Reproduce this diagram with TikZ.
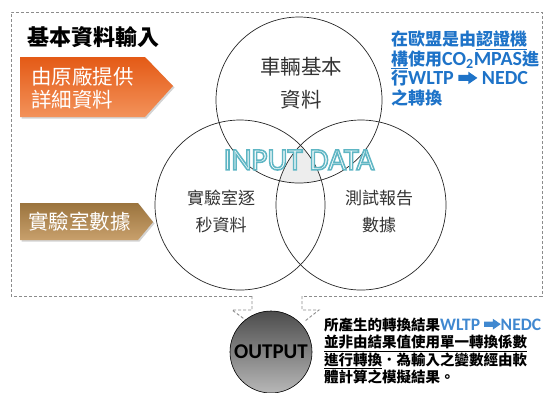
\documentclass[tikz,border=0pt]{standalone}
\usepackage{fontspec}
\setmainfont{Carlito}
\newfontfamily\cjk{Noto Sans CJK TC}
\newfontfamily\outlinefont{Carlito}[FakeBold=5]
\usetikzlibrary{shadows}

\definecolor{oemtop}{RGB}{228,90,22}
\definecolor{oembot}{RGB}{243,146,90}
\definecolor{labtop}{RGB}{155,116,62}
\definecolor{labbot}{RGB}{200,160,108}
\definecolor{noteblue}{RGB}{30,115,200}

\newcommand{\fatarrow}{\tikz[baseline=0pt,x=1em,y=1em]
  \fill (0,0.2) -- (0.5,0.2) -- (0.5,0.04) -- (0.95,0.35) -- (0.5,0.66) -- (0.5,0.5) -- (0,0.5) -- cycle;}
\newcommand{\noteLat}[1]{{\rmfamily\fontsize{20}{20}\selectfont #1}}
\newcommand{\resLat}[1]{{\rmfamily\fontsize{17.5}{17.5}\selectfont #1}}
% white letters, teal stroke
\newcommand{\outlined}[1]{{\outlinefont\color{white}\special{pdf:code 0.373 0.714 0.769 RG}#1}}

\begin{document}
\begin{tikzpicture}[x=1pt,y=-1pt,
    frame/.style={draw=black!45,dash pattern=on 3pt off 2pt,line width=0.9pt},
    venn/.style={circle,draw=black!85,line width=0.7pt,inner sep=0pt},
    tag/.style={drop shadow={opacity=0.35,shadow xshift=1.5pt,shadow yshift=-1.5pt}},
    tagtext/.style={text=white,align=left,inner sep=0pt,anchor=west},
    venntext/.style={text=black!80,align=center,inner sep=0pt}]

  \useasboundingbox (0,0) rectangle (545,392);

  % dashed frame round the inputs
  \draw[frame] (252,296) -- (11,296) -- (11,12) -- (542,12) -- (542,296) -- (302,296);
  \draw[frame] (252,296) -- (252,310) -- (232,310) -- (247,321);
  \draw[frame] (302,296) -- (302,310) -- (319,310) -- (305,321);

  \node[anchor=west,inner sep=0pt,font=\cjk\bfseries\fontsize{22}{26}\selectfont] (title) at (27,37) {基本資料輸入};

  % tags on the left
  \path[tag,top color=oemtop,bottom color=oembot] (20,57) -- (145,57) -- (173,86) -- (145,117) -- (20,117) -- cycle;
  \path[tag,top color=labtop,bottom color=labbot] (20,203) -- (138,203) -- (153,222) -- (138,240) -- (20,240) -- cycle;
  \node[tagtext,font=\cjk\fontsize{20.5}{23}\selectfont] (oem) at (31,88.5) {由原廠提供\\詳細資料};
  \node[tagtext,font=\cjk\fontsize{20.5}{23}\selectfont] (lab) at (28,222) {實驗室數據};

  % venn circles
  \begin{scope}
    \clip (299,100) circle[radius=83pt];
    \clip (240,205) circle[radius=85pt];
    \fill[black!7] (361,205) circle[radius=85pt];
  \end{scope}
  \node[venn,minimum size=166pt] (car) at (299,100) {};
  \node[venn,minimum size=170pt] (sec) at (240,205) {};
  \node[venn,minimum size=170pt] (rep) at (361,205) {};

  \node[venntext,font=\cjk\fontsize{20.5}{33}\selectfont] (cartext) at (301,83.5) {車輛基本\\資料};
  \node[venntext,font=\cjk\fontsize{17}{27}\selectfont] (sectext) at (221,211.5) {實驗室逐\\秒資料};
  \node[venntext,font=\cjk\fontsize{17}{27}\selectfont] (reptext) at (379,211.5) {測試報告\\數據};

  % outlined title in the middle
  \node[font=\fontsize{31}{32}\selectfont,inner sep=0pt] (input) at (299,160) {\outlined{INPUT DATA}};

  % note on the right
  \node[anchor=north west,align=left,inner sep=0pt,text=noteblue,font=\cjk\bfseries\fontsize{17}{19.5}\selectfont] (note) at (391,31)
    {在歐盟是由\underline{認證機}\\
     \underline{構}使用\noteLat{CO\textsubscript{2}MPAS}進\\
     行\noteLat{WLTP \fatarrow{} NEDC}\\
     之轉換};

  % output
  \node[circle,draw=black,line width=0.6pt,minimum size=82pt,inner sep=0pt,
        top color=black!70,bottom color=black!28,font=\bfseries\fontsize{21}{22}\selectfont] (out) at (271,352) {OUTPUT};

  \node[anchor=north west,align=left,inner sep=0pt,font=\cjk\bfseries\fontsize{14.5}{17.5}\selectfont] (result) at (324,317.5)
    {所產生的轉換結果\textcolor{noteblue!85!white}{\resLat{WLTP \fatarrow{}NEDC}}\\
     \underline{並非由結果值使用單一轉換係數}\\
     \underline{進行轉換}．為輸入之變數經由軟\\
     體計算之模擬結果。};
\end{tikzpicture}
\end{document}
